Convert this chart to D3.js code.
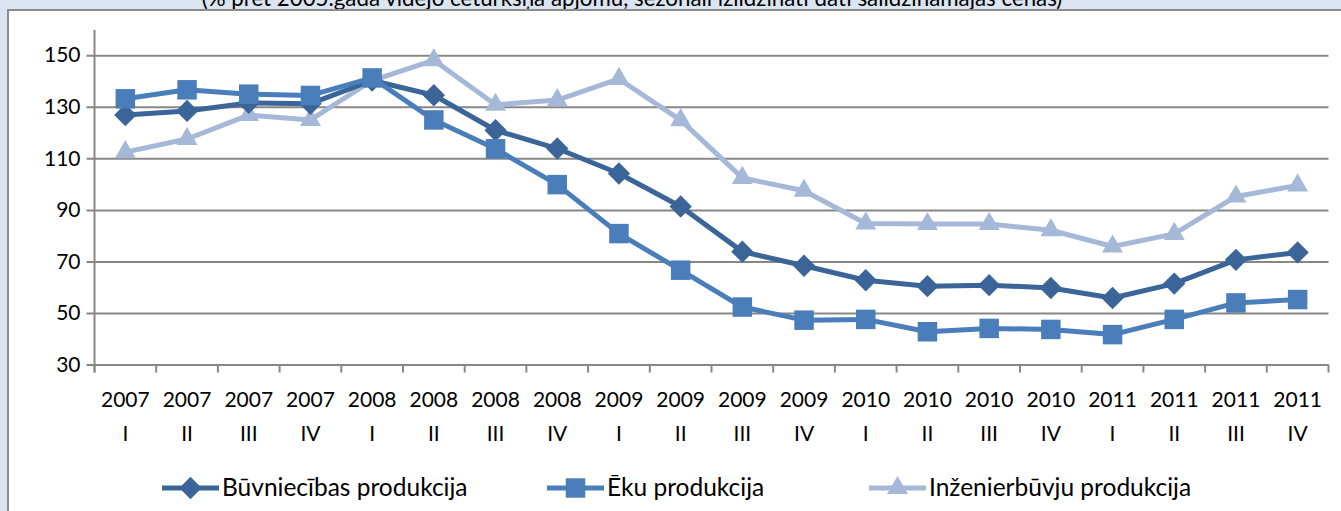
<!DOCTYPE html>
<html>
<head>
<meta charset="utf-8">
<script src="https://cdn.jsdelivr.net/npm/d3@7"></script>
<style>
  body { margin: 0; background: #dbe5f1; }
  svg { display: block; font-family: Lato, "Open Sans", sans-serif; }
</style>
</head>
<body>
<div id="container"></div>
<script>
/**
 * DATA
 * */
const years = ["2007","2007","2007","2007","2008","2008","2008","2008","2009","2009",
               "2009","2009","2010","2010","2010","2010","2011","2011","2011","2011"];
const quarters = ["I","II","III","IV","I","II","III","IV","I","II",
                  "III","IV","I","II","III","IV","I","II","III","IV"];

const buvniecibas = [126.8,128.4,131.5,131.2,140.2,134.5,120.9,113.8,104.1,91.3,
                     73.8,68.3,62.7,60.4,60.8,59.7,55.8,61.4,70.6,73.5];
const eku = [133.1,136.6,134.9,134.4,141.2,124.9,113.7,99.8,80.8,66.6,
             52.3,47.2,47.5,42.7,44.0,43.6,41.6,47.5,53.9,55.2];
const inzenierbuvju = [112.4,117.5,126.8,124.9,140.2,148.1,130.8,132.6,140.8,124.8,
                       102.4,97.4,84.7,84.5,84.5,82.1,75.8,80.7,95.2,99.5];

const yTicks = [30,50,70,90,110,130,150];
const title = "(% pret 2005.gada vidējo ceturkšņa apjomu, sezonāli izlīdzināti dati salīdzināmajās cenās)";

/**
 * CONSTANTS
 * */
const width = 1341, height = 511;
const plot = {left: 94.5, right: 1328.5, top: 30, bottom: 364.5};

// wide diamond like the spreadsheet marker (a square turned 45deg)
const wideDiamond = {
  draw(ctx, size) {
    const r = Math.sqrt(size / 2);
    ctx.moveTo(0, -r); ctx.lineTo(r, 0); ctx.lineTo(0, r); ctx.lineTo(-r, 0); ctx.closePath();
  }
};

const series = [
  {name: "Būvniecības produkcija", values: buvniecibas, color: "#3b6598", shape: wideDiamond, size: 250, legendX: 162},
  {name: "Ēku produkcija", values: eku, color: "#4a7ebb", shape: d3.symbolSquare, size: 380, legendX: 547},
  {name: "Inženierbūvju produkcija", values: inzenierbuvju, color: "#a6b8d8", shape: d3.symbolTriangle, size: 190, legendX: 869}
];

const svg = d3.select("#container")
  .append("svg")
  .attr("width", width)
  .attr("height", height);

// title, mostly cut off at the top
svg.append("text")
  .attr("x", 632)
  .attr("y", 6)
  .attr("text-anchor", "middle")
  .attr("font-size", 22.3)
  .attr("fill", "#000")
  .text(title);

// chart box
svg.append("rect")
  .attr("x", 8)
  .attr("y", 10)
  .attr("width", width + 10)
  .attr("height", height)
  .attr("fill", "#fff")
  .attr("stroke", "#8c8c8c")
  .attr("stroke-width", 2);

const x = d3.scaleBand()
  .domain(d3.range(years.length))
  .range([plot.left, plot.right])
  .padding(0);

const y = d3.scaleLinear()
  .domain([30, 150])
  .range([plot.bottom, plot.bottom - 120 * 2.577]);

// gridlines + y axis
const yAxis = d3.axisLeft(y)
  .tickValues(yTicks)
  .tickSize(-(plot.right - plot.left))
  .tickPadding(14);

const gy = svg.append("g")
  .attr("transform", `translate(${plot.left},0)`)
  .call(yAxis);
gy.select(".domain").remove();
gy.selectAll(".tick line")
  .attr("x1", -8)
  .attr("stroke", "#878787")
  .attr("stroke-width", 2);
gy.selectAll(".tick text")
  .attr("font-size", 21)
  .attr("fill", "#000")
  .attr("font-family", "Lato, sans-serif");

// vertical axis line
svg.append("line")
  .attr("x1", plot.left).attr("x2", plot.left)
  .attr("y1", plot.top).attr("y2", plot.bottom + 8)
  .attr("stroke", "#878787")
  .attr("stroke-width", 2);

// x axis ticks between categories
const boundaries = d3.range(years.length + 1).map(i => plot.left + i * x.bandwidth());
svg.append("g")
  .selectAll("line")
  .data(boundaries)
  .join("line")
  .attr("x1", d => d).attr("x2", d => d)
  .attr("y1", plot.bottom).attr("y2", plot.bottom + 8)
  .attr("stroke", "#878787")
  .attr("stroke-width", 2);

// category labels
const labels = svg.append("g")
  .selectAll("g")
  .data(years.map((yr, i) => ({yr, q: quarters[i], i})))
  .join("g")
  .attr("transform", d => `translate(${x(d.i) + x.bandwidth() / 2},0)`);
labels.append("text")
  .attr("y", 407)
  .attr("text-anchor", "middle")
  .attr("font-size", 21)
  .text(d => d.yr);
labels.append("text")
  .attr("y", 441)
  .attr("text-anchor", "middle")
  .attr("font-size", 21)
  .text(d => d.q);

// lines and markers
const line = d3.line()
  .x((d, i) => x(i) + x.bandwidth() / 2)
  .y(d => y(d));

const order = [2, 0, 1];
order.forEach(k => {
  const s = series[k];
  const g = svg.append("g");
  g.append("path")
    .datum(s.values)
    .attr("d", line)
    .attr("fill", "none")
    .attr("stroke", s.color)
    .attr("stroke-width", 5)
    .attr("stroke-linejoin", "round");
  g.selectAll("path.m")
    .data(s.values)
    .join("path")
    .attr("class", "m")
    .attr("d", d3.symbol().type(s.shape).size(s.size))
    .attr("transform", (d, i) => `translate(${x(i) + x.bandwidth() / 2},${y(d)})`)
    .attr("fill", s.color);
});

// legend
const legend = svg.append("g")
  .selectAll("g")
  .data(series)
  .join("g")
  .attr("transform", d => `translate(${d.legendX},488)`);
legend.append("line")
  .attr("x1", 0).attr("x2", 57)
  .attr("stroke", d => d.color)
  .attr("stroke-width", 5);
legend.append("path")
  .attr("d", d => d3.symbol().type(d.shape).size(d.size)())
  .attr("transform", "translate(28.5,0)")
  .attr("fill", d => d.color);
legend.append("text")
  .attr("x", 60)
  .attr("y", 8)
  .attr("font-size", 24.5)
  .text(d => d.name);
</script>
</body>
</html>
